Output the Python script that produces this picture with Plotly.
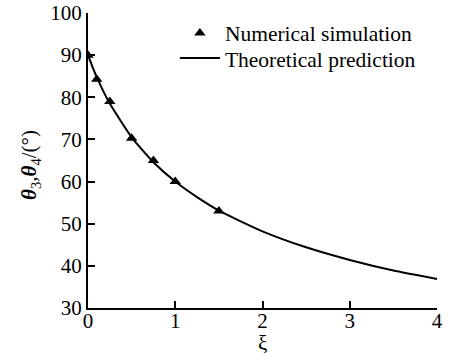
import plotly.graph_objects as go

# Numerical simulation (triangles)
sim_xi = [0, 0.1, 0.25, 0.5, 0.75, 1.0, 1.5]
sim_theta = [90, 84.3, 79.0, 70.3, 65.0, 60.0, 53.0]

# Theoretical prediction (curve)
th_xi = [0, 0.05, 0.1, 0.25, 0.5, 0.75, 1.0, 1.25, 1.5, 2.0, 2.5, 3.0, 3.5, 4.0]
th_theta = [90, 87.3, 84.8, 78.5, 70.5, 64.6, 60.0, 56.3, 53.1, 48.2, 44.4, 41.4, 38.9, 36.9]

x_ticks = [0, 1, 2, 3, 4]
y_ticks = [30, 40, 50, 60, 70, 80, 90, 100]

FONT = "Liberation Serif"
LEG_FONT = dict(family=FONT, size=21.5, color="black")

fig = go.Figure()
fig.add_trace(go.Scatter(
    x=sim_xi, y=sim_theta, mode="markers", name="Numerical simulation",
    marker=dict(symbol="triangle-up", size=10, color="black"),
    legend="legend",
))
fig.add_trace(go.Scatter(
    x=th_xi, y=th_theta, mode="lines", name="Theoretical prediction",
    line=dict(color="black", width=2, shape="spline", smoothing=0.5),
    legend="legend2",
))

fig.update_layout(
    width=456, height=360,
    margin=dict(l=88, r=19, t=13, b=52, autoexpand=False),
    paper_bgcolor="white", plot_bgcolor="white",
    font=dict(family=FONT, size=20, color="black"),
    showlegend=True,
    legend=dict(x=0.249, y=0.932, xanchor="left", yanchor="middle",
                bgcolor="rgba(0,0,0,0)", itemwidth=40, font=LEG_FONT),
    legend2=dict(x=0.249, y=0.847, xanchor="left", yanchor="middle",
                 bgcolor="rgba(0,0,0,0)", itemwidth=40, font=LEG_FONT),
    xaxis=dict(range=[0, 4], tickvals=x_ticks, ticks="inside", ticklen=7,
               tickwidth=2, tickcolor="black", showline=True, linecolor="black",
               linewidth=2, showgrid=False, zeroline=False, ticklabelstandoff=-7,
               automargin=False, tickfont=dict(family=FONT, size=21)),
    yaxis=dict(range=[30, 100], tickvals=y_ticks, ticks="inside", ticklen=7,
               tickwidth=2, tickcolor="black", showline=True, linecolor="black",
               linewidth=2, showgrid=False, zeroline=False, automargin=False,
               tickfont=dict(family=FONT, size=21)),
    annotations=[
        dict(text="ξ", xref="paper", yref="paper", x=0.5, y=-0.12,
             xanchor="center", yanchor="middle", showarrow=False,
             font=dict(family=FONT, size=21)),
        dict(text="<b><i>θ</i></b><sub>3</sub>,<b><i>θ</i></b><sub>4</sub>/(°)",
             xref="paper", yref="paper", x=-0.166, y=0.485, textangle=-90,
             xanchor="center", yanchor="middle", showarrow=False,
             font=dict(family=FONT, size=21)),
    ],
)

fig.write_html("out.html")
